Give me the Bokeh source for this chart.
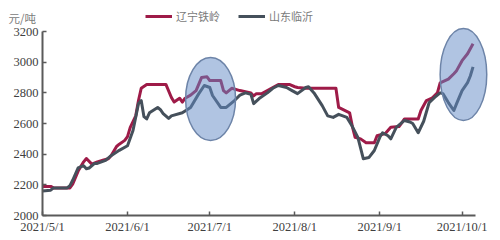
import pandas as pd
from bokeh.plotting import figure
from bokeh.models import (Range1d, FixedTicker, Legend, LegendItem, Label,
                          CustomJSTickFormatter, ColumnDataSource)
from bokeh.embed import file_html
from bokeh.resources import INLINE

# ---------------- data ----------------
series_names = ["辽宁铁岭", "山东临沂"]

dates_tieling = [
    "2021-05-01", "2021-05-04", "2021-05-05", "2021-05-11", "2021-05-12", "2021-05-14",
    "2021-05-16", "2021-05-17", "2021-05-19", "2021-05-21", "2021-05-23", "2021-05-25",
    "2021-05-26", "2021-05-28", "2021-05-29", "2021-05-31",
    "2021-06-01", "2021-06-02", "2021-06-04", "2021-06-05", "2021-06-06", "2021-06-08",
    "2021-06-15", "2021-06-17", "2021-06-18", "2021-06-20", "2021-06-21", "2021-06-22",
    "2021-06-24", "2021-06-26", "2021-06-28", "2021-06-30",
    "2021-07-01", "2021-07-05", "2021-07-06", "2021-07-07", "2021-07-09", "2021-07-12",
    "2021-07-16", "2021-07-17", "2021-07-18", "2021-07-20", "2021-07-22", "2021-07-24",
    "2021-07-26", "2021-07-30",
    "2021-08-01", "2021-08-02", "2021-08-05", "2021-08-16", "2021-08-17", "2021-08-21",
    "2021-08-22", "2021-08-23", "2021-08-25", "2021-08-27", "2021-08-30", "2021-08-31",
    "2021-09-03", "2021-09-05", "2021-09-08", "2021-09-09", "2021-09-10", "2021-09-15",
    "2021-09-16", "2021-09-18", "2021-09-20", "2021-09-22", "2021-09-23", "2021-09-26",
    "2021-09-28", "2021-09-29",
    "2021-10-01", "2021-10-03", "2021-10-05",
]
values_tieling = [
    2190, 2190, 2180, 2180, 2205, 2290, 2350, 2372, 2335, 2350, 2360, 2370, 2390, 2450, 2465, 2490,
    2515, 2575, 2650, 2750, 2830, 2855, 2855, 2770, 2740, 2765, 2740, 2765, 2785, 2815, 2900, 2905,
    2880, 2880, 2815, 2800, 2830, 2815, 2800, 2780, 2795, 2795, 2815, 2835, 2855, 2855,
    2840, 2835, 2830, 2830, 2705, 2670, 2580, 2510, 2500, 2475, 2475, 2520,
    2535, 2575, 2580, 2605, 2630, 2630, 2685, 2750, 2765, 2800, 2865, 2890, 2925, 2945,
    3010, 3055, 3120,
]

dates_linyi = [
    "2021-05-01", "2021-05-04", "2021-05-05", "2021-05-10", "2021-05-11", "2021-05-12",
    "2021-05-14", "2021-05-16", "2021-05-17", "2021-05-18", "2021-05-20", "2021-05-21",
    "2021-05-24", "2021-05-26", "2021-05-29",
    "2021-06-01", "2021-06-03", "2021-06-05", "2021-06-06", "2021-06-07", "2021-06-08",
    "2021-06-09", "2021-06-12", "2021-06-13", "2021-06-14", "2021-06-16", "2021-06-17",
    "2021-06-21", "2021-06-24", "2021-06-27", "2021-06-29",
    "2021-07-01", "2021-07-02", "2021-07-05", "2021-07-07", "2021-07-10", "2021-07-12",
    "2021-07-14", "2021-07-16", "2021-07-17", "2021-07-19", "2021-07-22", "2021-07-24",
    "2021-07-26", "2021-07-29", "2021-07-31",
    "2021-08-02", "2021-08-05", "2021-08-06", "2021-08-08", "2021-08-11", "2021-08-13",
    "2021-08-15", "2021-08-17", "2021-08-20", "2021-08-22", "2021-08-24", "2021-08-25",
    "2021-08-26", "2021-08-28", "2021-08-30",
    "2021-09-01", "2021-09-02", "2021-09-04", "2021-09-05", "2021-09-07", "2021-09-10",
    "2021-09-12", "2021-09-13", "2021-09-15", "2021-09-17", "2021-09-19", "2021-09-21",
    "2021-09-23", "2021-09-24", "2021-09-26", "2021-09-28", "2021-09-29",
    "2021-10-01", "2021-10-03", "2021-10-04", "2021-10-05",
]
values_linyi = [
    2160, 2165, 2180, 2180, 2195, 2230, 2310, 2325, 2305, 2310, 2340, 2340, 2360, 2390, 2425,
    2455, 2555, 2730, 2750, 2645, 2630, 2670, 2705, 2690, 2665, 2633, 2650, 2670, 2705, 2795, 2848,
    2835, 2783, 2705, 2705, 2750, 2785, 2800, 2790, 2730, 2763, 2800, 2830, 2848, 2835, 2815,
    2795, 2835, 2840, 2800, 2717, 2650, 2640, 2660, 2640, 2580, 2510, 2440, 2370, 2378, 2424,
    2510, 2540, 2520, 2500, 2575, 2620, 2610, 2600, 2540, 2615, 2737, 2770, 2800, 2795, 2737,
    2685, 2730,
    2815, 2867, 2910, 2970,
]

x_tick_dates = ["2021-05-01", "2021-06-01", "2021-07-01", "2021-08-01", "2021-09-01", "2021-10-01"]
y_ticks = [2000, 2200, 2400, 2600, 2800, 3000, 3200]
unit_label = "元/吨"

# highlight ellipses (center date, center value, width in days, height in value units)
ellipse_dates = ["2021-07-01 07:00", "2021-10-01 12:00"]
ellipse_values = [2760, 2920]
ellipse_width_days = [18.2, 17.0]
ellipse_heights = [541, 600]

# ---------------- layout geometry ----------------
W, H = 500, 240
axis_x_px, axis_y_px = 42, 215          # where the two axes sit on the canvas
px_per_day = 2.7423
px_per_unit = 0.153279
origin_date = pd.Timestamp("2021-05-01")
axis_end = pd.Timestamp("2021-10-06")
y_min, y_max = 2000, 3200

x_start = origin_date - pd.Timedelta(days=axis_x_px / px_per_day)
x_end = origin_date + pd.Timedelta(days=(W - axis_x_px) / px_per_day)
y_start = y_min - (H - axis_y_px) / px_per_unit
y_end = y_min + axis_y_px / px_per_unit

p = figure(width=W, height=H, x_axis_type="datetime",
           output_backend="svg", toolbar_location=None,
           x_range=Range1d(x_start, x_end), y_range=Range1d(y_start, y_end),
           min_border_left=0, min_border_right=0,
           min_border_top=0, min_border_bottom=0)

p.xgrid.visible = False
p.ygrid.visible = False
p.outline_line_color = None
p.background_fill_color = "white"
p.border_fill_color = "white"

src_t = ColumnDataSource(dict(x=pd.to_datetime(dates_tieling), y=values_tieling))
src_l = ColumnDataSource(dict(x=pd.to_datetime(dates_linyi), y=values_linyi))

r_t = p.line("x", "y", source=src_t, line_color="#9e1b48", line_width=3,
             line_join="round")
r_l = p.line("x", "y", source=src_l, line_color="#45505b", line_width=3,
             line_join="round")

ms_per_day = 24 * 3600 * 1000
src_e = ColumnDataSource(dict(
    x=pd.to_datetime(ellipse_dates), y=ellipse_values,
    w=[d * ms_per_day for d in ellipse_width_days], h=ellipse_heights))
p.ellipse(x="x", y="y", width="w", height="h", source=src_e,
          fill_color="#6189c5", fill_alpha=0.5,
          line_color="#6d84a8", line_width=1.5)

# axes (fixed inside the full-canvas frame)
xt = [pd.Timestamp(d).timestamp() * 1000 for d in x_tick_dates]
p.xaxis.ticker = FixedTicker(ticks=xt)
p.xaxis.formatter = CustomJSTickFormatter(code="""
    const d = new Date(tick);
    return d.getUTCFullYear() + "/" + (d.getUTCMonth() + 1) + "/" + d.getUTCDate();
""")
p.xaxis.bounds = (origin_date, axis_end)
p.xaxis.fixed_location = y_min
p.yaxis.ticker = FixedTicker(ticks=y_ticks)
p.yaxis.bounds = (y_min, y_max)
p.yaxis.fixed_location = origin_date.timestamp() * 1000

for ax in (p.xaxis[0], p.yaxis[0]):
    ax.axis_line_color = "#5a5a5a"
    ax.axis_line_width = 2
    ax.major_tick_line_color = "#5a5a5a"
    ax.major_tick_line_width = 1.5
    ax.major_tick_in = 4
    ax.major_tick_out = 0
    ax.minor_tick_line_color = None
    ax.major_label_text_font = "Liberation Serif"
    ax.major_label_text_font_size = "12.5px"
    ax.major_label_text_color = "#404040"
    ax.major_label_standoff = 4

# legend
legend = Legend(items=[LegendItem(label=series_names[0], renderers=[r_t]),
                       LegendItem(label=series_names[1], renderers=[r_l])],
                orientation="horizontal", location=(145, H - 24),
                background_fill_alpha=0, border_line_color=None,
                padding=0, margin=0, spacing=18,
                glyph_width=27, glyph_height=12, label_standoff=4,
                label_height=12,
                label_text_font="Noto Sans CJK SC", label_text_font_size="11px",
                label_text_color="#7a7a7a")
p.add_layout(legend)

p.add_layout(Label(x=8, y=H - 17.5, x_units="screen", y_units="screen",
                   text=unit_label, text_font="Noto Sans CJK SC",
                   text_font_size="11.5px", text_color="#7a7a7a",
                   text_baseline="middle"))

open("out.html", "w").write(file_html(p, INLINE))
